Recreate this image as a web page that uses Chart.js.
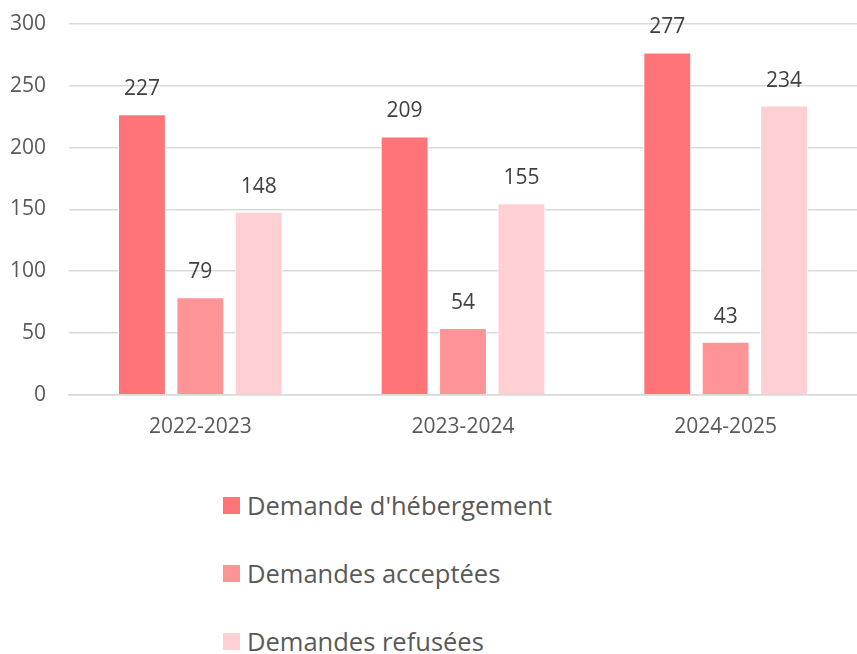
<!DOCTYPE html>
<html>
  <head>
    <meta charset="UTF-8" />
    <title>Demandes d'hébergement</title>
    <script src="https://cdn.jsdelivr.net/npm/chart.js"></script>
    <style>
      body {
        margin: 0;
        padding: 0;
        font-family: "Open Sans", sans-serif;
        background: #fff;
        overflow: hidden;
      }
      #wrap {
        position: relative;
        width: 857px;
        height: 462px;
      }
      #legend {
        margin: 0;
        padding: 9px 0 0 223px;
        list-style: none;
      }
      #legend li {
        display: flex;
        align-items: center;
        height: 68px;
        font-size: 25.5px;
        color: #595959;
      }
      #legend li span {
        display: inline-block;
        width: 17px;
        height: 17px;
        margin-right: 7px;
      }
    </style>
  </head>
  <body>
    <div id="wrap"><canvas id="myChart"></canvas></div>
    <ul id="legend"></ul>
    <script>
      const labels = ['2022-2023', '2023-2024', '2024-2025'];
      const hebergement = [227, 209, 277];
      const acceptees = [79, 54, 43];
      const refusees = [148, 155, 234];

      // draw the value above each bar
      const valueLabels = {
        id: 'valueLabels',
        afterDatasetsDraw(chart) {
          const ctx = chart.ctx;
          ctx.save();
          ctx.font = '21px "Open Sans"';
          ctx.fillStyle = '#404040';
          ctx.textAlign = 'center';
          ctx.textBaseline = 'middle';
          chart.data.datasets.forEach((ds, i) => {
            chart.getDatasetMeta(i).data.forEach((bar, j) => {
              ctx.fillText(ds.data[j], bar.x, bar.y - 25);
            });
          });
          ctx.restore();
        }
      };

      // legend as a list under the canvas, one item per line
      const htmlLegend = {
        id: 'htmlLegend',
        afterUpdate(chart) {
          const ul = document.getElementById('legend');
          ul.innerHTML = '';
          const items = chart.options.plugins.legend.labels.generateLabels(chart);
          items.forEach(item => {
            const li = document.createElement('li');
            const box = document.createElement('span');
            box.style.background = item.fillStyle;
            li.appendChild(box);
            li.appendChild(document.createTextNode(item.text));
            ul.appendChild(li);
          });
        }
      };

      const ctx = document.getElementById('myChart').getContext('2d');
      new Chart(ctx, {
        type: 'bar',
        data: {
          labels: labels,
          datasets: [
            {
              label: "Demande d'hébergement",
              data: hebergement,
              backgroundColor: '#FF7479',
              borderColor: '#ffffff',
              borderWidth: 1
            },
            {
              label: 'Demandes acceptées',
              data: acceptees,
              backgroundColor: '#FF9497',
              borderColor: '#ffffff',
              borderWidth: 1
            },
            {
              label: 'Demandes refusées',
              data: refusees,
              backgroundColor: '#FFD0D3',
              borderColor: '#ffffff',
              borderWidth: 1
            }
          ]
        },
        plugins: [valueLabels, htmlLegend],
        options: {
          responsive: true,
          maintainAspectRatio: false,
          animation: { duration: 0 },
          layout: {
            padding: { left: 8, right: -4, top: 24, bottom: 10 }
          },
          datasets: {
            bar: {
              categoryPercentage: 0.667,
              barPercentage: 0.82
            }
          },
          plugins: {
            legend: { display: false },
            tooltip: { enabled: false }
          },
          scales: {
            x: {
              grid: { display: false },
              border: { color: '#d9d9d9', width: 1.5 },
              ticks: {
                color: '#595959',
                font: { family: 'Open Sans', size: 21 },
                padding: 12
              }
            },
            y: {
              min: 0,
              max: 300,
              border: { display: false },
              grid: { color: '#d9d9d9', lineWidth: 1.5, drawTicks: false },
              afterFit(scale) {
                scale.width = 61;
                scale.paddingTop = 0;
                scale.paddingBottom = 0;
              },
              ticks: {
                stepSize: 50,
                color: '#595959',
                font: { family: 'Open Sans', size: 21 },
                padding: 23
              }
            }
          }
        }
      });
    </script>
  </body>
</html>
